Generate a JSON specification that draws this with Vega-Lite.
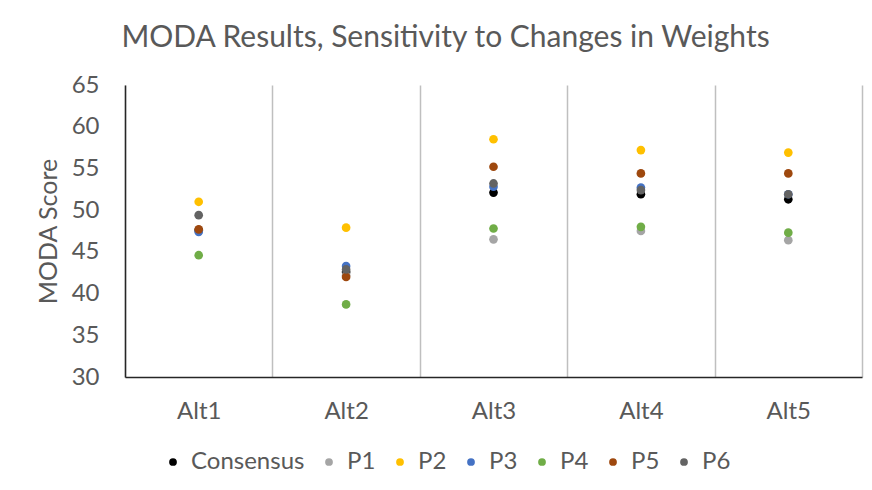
{
  "$schema": "https://vega.github.io/schema/vega-lite/v6.json",
  "autosize": "none",
  "width": 737,
  "height": 292,
  "padding": {"left": 125, "top": 85, "right": 10, "bottom": 113},
  "background": "white",
  "config": {
    "font": "Lato",
    "view": {"stroke": null}
  },
  "title": {
    "text": "MODA Results, Sensitivity to Changes in Weights",
    "font": "Lato",
    "fontSize": 30,
    "fontWeight": "normal",
    "color": "#595959",
    "anchor": "middle",
    "frame": "group",
    "dx": -48,
    "offset": 20
  },
  "data": {
    "values": [
      {"alt": "Alt1", "series": "Consensus", "score": 47.6},
      {"alt": "Alt2", "series": "Consensus", "score": 42.6},
      {"alt": "Alt3", "series": "Consensus", "score": 52.1},
      {"alt": "Alt4", "series": "Consensus", "score": 51.9},
      {"alt": "Alt5", "series": "Consensus", "score": 51.3},
      {"alt": "Alt1", "series": "P1", "score": 47.5},
      {"alt": "Alt2", "series": "P1", "score": 42.2},
      {"alt": "Alt3", "series": "P1", "score": 46.5},
      {"alt": "Alt4", "series": "P1", "score": 47.5},
      {"alt": "Alt5", "series": "P1", "score": 46.4},
      {"alt": "Alt1", "series": "P2", "score": 51.0},
      {"alt": "Alt2", "series": "P2", "score": 47.9},
      {"alt": "Alt3", "series": "P2", "score": 58.5},
      {"alt": "Alt4", "series": "P2", "score": 57.2},
      {"alt": "Alt5", "series": "P2", "score": 56.9},
      {"alt": "Alt1", "series": "P3", "score": 47.4},
      {"alt": "Alt2", "series": "P3", "score": 43.3},
      {"alt": "Alt3", "series": "P3", "score": 52.8},
      {"alt": "Alt4", "series": "P3", "score": 52.7},
      {"alt": "Alt5", "series": "P3", "score": 51.9},
      {"alt": "Alt1", "series": "P4", "score": 44.6},
      {"alt": "Alt2", "series": "P4", "score": 38.7},
      {"alt": "Alt3", "series": "P4", "score": 47.8},
      {"alt": "Alt4", "series": "P4", "score": 48.0},
      {"alt": "Alt5", "series": "P4", "score": 47.3},
      {"alt": "Alt1", "series": "P5", "score": 47.7},
      {"alt": "Alt2", "series": "P5", "score": 42.0},
      {"alt": "Alt3", "series": "P5", "score": 55.2},
      {"alt": "Alt4", "series": "P5", "score": 54.4},
      {"alt": "Alt5", "series": "P5", "score": 54.4},
      {"alt": "Alt1", "series": "P6", "score": 49.4},
      {"alt": "Alt2", "series": "P6", "score": 42.9},
      {"alt": "Alt3", "series": "P6", "score": 53.2},
      {"alt": "Alt4", "series": "P6", "score": 52.4},
      {"alt": "Alt5", "series": "P6", "score": 51.9}
    ]
  },
  "mark": {"type": "point", "filled": true, "opacity": 1, "size": 75},
  "encoding": {
    "x": {
      "field": "alt",
      "type": "nominal",
      "sort": ["Alt1", "Alt2", "Alt3", "Alt4", "Alt5"],
      "scale": {"paddingInner": 0, "paddingOuter": 0},
      "axis": {
        "title": null,
        "labelAngle": 0,
        "labelFontSize": 24,
        "labelColor": "#595959",
        "labelPadding": 22,
        "ticks": false,
        "tickBand": "extent",
        "domainColor": "#262626",
        "domainWidth": 1.5,
        "grid": true,
        "gridColor": "#bfbfbf",
        "gridWidth": 1.5
      }
    },
    "y": {
      "field": "score",
      "type": "quantitative",
      "scale": {"domain": [30, 65], "nice": false, "zero": false},
      "axis": {
        "title": "MODA Score",
        "titleFontSize": 25,
        "titleFontWeight": "normal",
        "titleColor": "#595959",
        "titlePadding": 10,
        "values": [30, 35, 40, 45, 50, 55, 60, 65],
        "labelFontSize": 24,
        "labelColor": "#595959",
        "labelPadding": 26,
        "ticks": false,
        "grid": false,
        "domainColor": "#262626",
        "domainWidth": 1.5
      }
    },
    "color": {
      "field": "series",
      "type": "nominal",
      "scale": {
        "domain": ["Consensus", "P1", "P2", "P3", "P4", "P5", "P6"],
        "range": ["#000000", "#a5a5a5", "#ffc000", "#4472c4", "#70ad47", "#9e480e", "#636363"]
      },
      "legend": {
        "title": null,
        "orient": "none",
        "direction": "horizontal",
        "legendX": 36,
        "legendY": 365,
        "symbolType": "circle",
        "symbolSize": 60,
        "labelFontSize": 24,
        "labelColor": "#595959",
        "labelOffset": 6,
        "columnPadding": 12
      }
    }
  }
}
